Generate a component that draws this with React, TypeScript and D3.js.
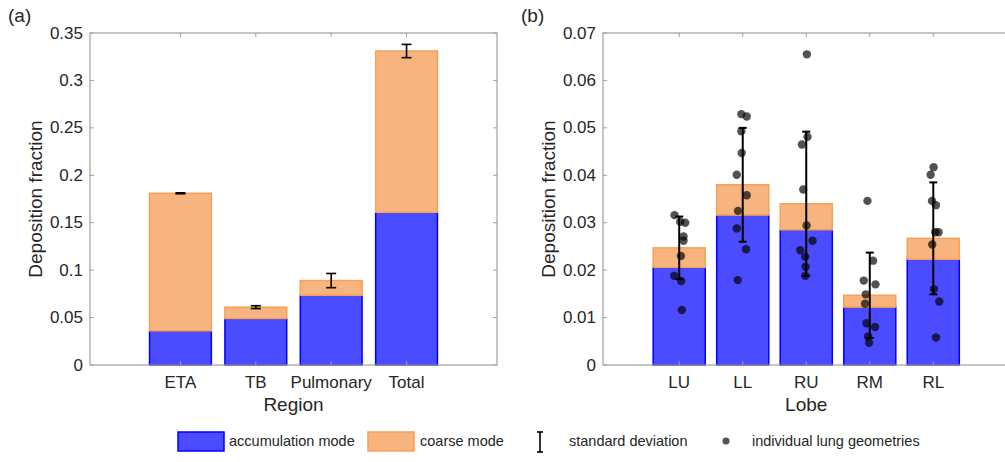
import React from "react";
import * as d3 from "d3";

// ---------- data ----------
const regions = ["ETA", "TB", "Pulmonary", "Total"];
const regionAccum = [0.036, 0.049, 0.0735, 0.161];
const regionCoarse = [0.145, 0.012, 0.0155, 0.17];
const regionSD = [0.0005, 0.0015, 0.0075, 0.007];
const regionTicks = [0, 0.05, 0.1, 0.15, 0.2, 0.25, 0.3, 0.35];

const lobes = ["LU", "LL", "RU", "RM", "RL"];
const lobeAccum = [0.0206, 0.0316, 0.0285, 0.0122, 0.0223];
const lobeCoarse = [0.0041, 0.0064, 0.0055, 0.0025, 0.0044];
const lobeSD = [0.0066, 0.012, 0.0152, 0.009, 0.0118];
const lobeTicks = [0, 0.01, 0.02, 0.03, 0.04, 0.05, 0.06, 0.07];

// individual lung geometries per lobe
const geomLU = [0.0316, 0.0302, 0.03, 0.0271, 0.0262, 0.023, 0.0188, 0.0177, 0.0116];
const geomLL = [0.0529, 0.0524, 0.0493, 0.0447, 0.0401, 0.0358, 0.0325, 0.0288, 0.0244, 0.0179];
const geomRU = [0.0655, 0.0481, 0.0465, 0.037, 0.0294, 0.0262, 0.0242, 0.0228, 0.0207, 0.0188];
const geomRM = [0.0346, 0.022, 0.0178, 0.017, 0.0149, 0.0129, 0.0088, 0.008, 0.006, 0.0047];
const geomRL = [0.0417, 0.0401, 0.0346, 0.0337, 0.028, 0.028, 0.0254, 0.016, 0.0134, 0.0058];
// horizontal jitter (category units)
const jitLU = [-0.074, 0.016, 0.094, 0.068, 0.068, 0.027, -0.079, 0.031, 0.042];
const jitLL = [-0.022, 0.063, -0.022, -0.016, -0.094, 0.063, -0.074, -0.094, 0.052, -0.079];
const jitRU = [0.01, 0.02, -0.068, -0.047, 0.005, 0.099, -0.094, -0.016, -0.011, -0.016];
const jitRM = [-0.036, 0.052, -0.094, 0.09, -0.063, -0.074, -0.052, 0.083, -0.027, -0.011];
const jitRL = [0.005, -0.042, -0.02, 0.042, 0.031, 0.083, -0.016, 0.011, 0.094, 0.042];
const lobeGeoms = [geomLU, geomLL, geomRU, geomRM, geomRL];
const lobeJit = [jitLU, jitLL, jitRU, jitRM, jitRL];

const legendLabels = ["accumulation mode", "coarse mode", "standard deviation", "individual lung geometries"];

// ---------- styles ----------
const FONT = "'Liberation Sans', Arial, Helvetica, sans-serif";
const BLUE_FILL = "#4b4bff";
const BLUE_EDGE = "#0000ff";
const ORANGE_FILL = "#f8b47e";
const ORANGE_EDGE = "#f7a057";
const AXIS = "#a0a0a0";
const TEXT = "#262626";

type PanelProps = {
  left: number;
  top: number;
  width: number;
  height: number;
  cats: string[];
  accum: number[];
  coarse: number[];
  sd: number[];
  ticks: number[];
  xLabel: string;
  tag: string;
  geoms?: number[][];
  jit?: number[][];
  capW: number;
  errW: number;
};

function Panel(p: PanelProps) {
  const n = p.cats.length;
  const x = d3.scaleLinear().domain([-0.2, n + 1.2]).range([p.left, p.left + p.width]);
  const yMax = p.ticks[p.ticks.length - 1];
  const y = d3.scaleLinear().domain([0, yMax]).range([p.top + p.height, p.top]);
  const bw = x(0.82) - x(0);
  const bottom = p.top + p.height;
  const right = p.left + p.width;
  const fmt = (v: number) => String(+v.toFixed(3));
  return (
    <g>
      {/* bars */}
      {p.cats.map((c, i) => {
        const cx = x(i + 1);
        const a = p.accum[i];
        const t = a + p.coarse[i];
        return (
          <g key={c}>
            <rect x={cx - bw / 2} y={y(a)} width={bw} height={y(0) - y(a)} fill={BLUE_FILL} stroke={BLUE_EDGE} strokeWidth={1.5} />
            <rect x={cx - bw / 2} y={y(t)} width={bw} height={y(a) - y(t)} fill={ORANGE_FILL} stroke={ORANGE_EDGE} strokeWidth={1.5} />
          </g>
        );
      })}
      {/* dots */}
      {p.geoms &&
        p.geoms.map((g, i) =>
          g.map((v, j) => (
            <circle key={`d${i}-${j}`} cx={x(i + 1 + p.jit![i][j])} cy={y(v)} r={4.2} fill="#000" fillOpacity={0.68} />
          ))
        )}
      {/* error bars */}
      {p.cats.map((c, i) => {
        const cx = x(i + 1);
        const t = p.accum[i] + p.coarse[i];
        const y1 = y(t + p.sd[i]);
        const y2 = y(t - p.sd[i]);
        return (
          <g key={`e${c}`} stroke="#000" strokeWidth={p.errW}>
            <line x1={cx} x2={cx} y1={y1} y2={y2} />
            <line x1={cx - p.capW / 2} x2={cx + p.capW / 2} y1={y1} y2={y1} />
            <line x1={cx - p.capW / 2} x2={cx + p.capW / 2} y1={y2} y2={y2} />
          </g>
        );
      })}
      {/* axes box */}
      <rect x={p.left} y={p.top} width={p.width} height={p.height} fill="none" stroke={AXIS} strokeWidth={1.2} />
      {/* y ticks */}
      {p.ticks.map((t) => (
        <g key={`yt${t}`}>
          <line x1={p.left} x2={p.left + 4} y1={y(t)} y2={y(t)} stroke={AXIS} strokeWidth={1} />
          <line x1={right} x2={right - 4} y1={y(t)} y2={y(t)} stroke={AXIS} strokeWidth={1} />
          <text x={p.left - 7} y={y(t)} textAnchor="end" dominantBaseline="central" fontSize={17} fontFamily={FONT} fill={TEXT}>
            {fmt(t)}
          </text>
        </g>
      ))}
      {/* x ticks */}
      {p.cats.map((c, i) => (
        <g key={`xt${c}`}>
          <line x1={x(i + 1)} x2={x(i + 1)} y1={bottom} y2={bottom - 4} stroke={AXIS} strokeWidth={1} />
          <line x1={x(i + 1)} x2={x(i + 1)} y1={p.top} y2={p.top + 4} stroke={AXIS} strokeWidth={1} />
          <text x={x(i + 1)} y={bottom + 23} textAnchor="middle" fontSize={17} fontFamily={FONT} fill={TEXT}>
            {c}
          </text>
        </g>
      ))}
      <text x={p.left + p.width / 2} y={bottom + 46} textAnchor="middle" fontSize={19} fontFamily={FONT} fill={TEXT}>
        {p.xLabel}
      </text>
      <text
        transform={`translate(${p.left - 48},${p.top + p.height / 2}) rotate(-90)`}
        textAnchor="middle"
        fontSize={19}
        fontFamily={FONT}
        fill={TEXT}
      >
        Deposition fraction
      </text>
      <text x={p.left - 82} y={p.top - 11} fontSize={19} fontFamily={FONT} fill={TEXT}>
        {p.tag}
      </text>
    </g>
  );
}

export default function App() {
  const ly = 441;
  return (
    <svg width={1005} height={462} style={{ position: "absolute", left: 0, top: 0, background: "#fff" }}>
      <rect x={0} y={0} width={1005} height={462} fill="#fff" />
      <Panel
        left={90}
        top={33}
        width={407}
        height={332}
        cats={regions}
        accum={regionAccum}
        coarse={regionCoarse}
        sd={regionSD}
        ticks={regionTicks}
        xLabel="Region"
        tag="(a)"
        capW={10}
        errW={1.6}
      />
      <Panel
        left={603}
        top={33}
        width={406.5}
        height={332}
        cats={lobes}
        accum={lobeAccum}
        coarse={lobeCoarse}
        sd={lobeSD}
        ticks={lobeTicks}
        xLabel="Lobe"
        tag="(b)"
        geoms={lobeGeoms}
        jit={lobeJit}
        capW={8}
        errW={2}
      />
      {/* legend */}
      <g fontFamily={FONT} fontSize={14.5} fill={TEXT}>
        <rect x={178} y={432} width={46} height={19} fill={BLUE_FILL} stroke={BLUE_EDGE} strokeWidth={1.5} />
        <text x={229} y={ly} dominantBaseline="central">{legendLabels[0]}</text>
        <rect x={368} y={432} width={46} height={19} fill={ORANGE_FILL} stroke={ORANGE_EDGE} strokeWidth={1.5} />
        <text x={420} y={ly} dominantBaseline="central">{legendLabels[1]}</text>
        <g stroke="#000" strokeWidth={1.6}>
          <line x1={540} x2={540} y1={432} y2={452} />
          <line x1={537} x2={543} y1={432} y2={432} />
          <line x1={537} x2={543} y1={452} y2={452} />
        </g>
        <text x={569} y={ly} dominantBaseline="central">{legendLabels[2]}</text>
        <circle cx={726} cy={ly} r={3.5} fill="#000" fillOpacity={0.68} />
        <text x={752} y={ly} dominantBaseline="central">{legendLabels[3]}</text>
      </g>
    </svg>
  );
}
